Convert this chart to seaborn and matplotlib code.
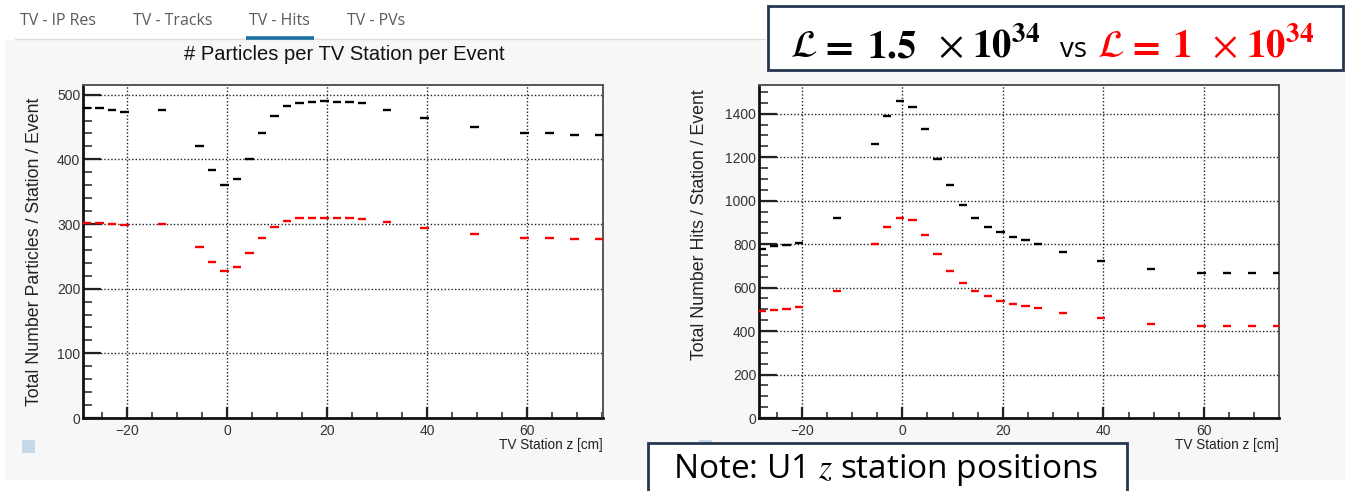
import numpy as np
import pandas as pd
import matplotlib
matplotlib.use("Agg")
import matplotlib.pyplot as plt
import seaborn as sns
from matplotlib.patches import Rectangle
from matplotlib.lines import Line2D
from matplotlib.ticker import MultipleLocator

# ---------------- data ----------------
z_cm = [-28.0, -25.5, -23.0, -20.5, -13.0, -5.5, -3.0, -0.5, 2.0, 4.5, 7.0, 9.5,
        12.0, 14.5, 17.0, 19.5, 22.0, 24.5, 27.0, 32.0, 39.5, 49.5, 59.5, 64.5,
        69.5, 74.5]
particles_L15 = [479, 479, 477, 474, 476, 421, 383, 361, 370, 401, 440, 467,
                 482, 487, 489, 491, 489, 489, 487, 477, 464, 450, 440, 440,
                 438, 438]
particles_L10 = [301, 301, 300, 299, 300, 265, 241, 227, 234, 255, 278, 296,
                 305, 310, 310, 310, 310, 310, 308, 303, 294, 284, 279, 279,
                 277, 277]
hits_L15 = [778, 792, 798, 804, 922, 1262, 1389, 1460, 1429, 1328, 1192, 1072,
            980, 922, 880, 854, 834, 818, 802, 762, 721, 686, 666, 666,
            666, 666]
hits_L10 = [494, 498, 503, 509, 585, 800, 880, 922, 911, 840, 754, 677,
            621, 585, 560, 540, 525, 514, 508, 483, 458, 432, 421, 421,
            421, 421]
lumi_labels = ["1.5e34", "1e34"]
lumi_colors = {"1.5e34": "#000000", "1e34": "#ff0000"}
tab_names = ["TV - IP Res", "TV - Tracks", "TV - Hits", "TV - PVs"]

df_part = pd.DataFrame({
    "z": z_cm * 2,
    "value": particles_L15 + particles_L10,
    "lumi": [lumi_labels[0]] * len(z_cm) + [lumi_labels[1]] * len(z_cm),
})
df_hits = pd.DataFrame({
    "z": z_cm * 2,
    "value": hits_L15 + hits_L10,
    "lumi": [lumi_labels[0]] * len(z_cm) + [lumi_labels[1]] * len(z_cm),
})

# ---------------- figure ----------------
sns.set_theme(style="white")
plt.rcParams["font.family"] = ["Liberation Sans", "DejaVu Sans"]
plt.rcParams["mathtext.fontset"] = "stix"

W, H = 1350, 491
fig = plt.figure(figsize=(W / 100, H / 100), dpi=100, facecolor="white")

def fx(px):
    return px / W

def fy(py):
    return 1 - py / H

# light grey panel background (behind everything)
fig.patches.append(Rectangle((fx(5), fy(480)), fx(1345) - fx(5), fy(40) - fy(480),
                             transform=fig.transFigure, facecolor="#f7f7f7",
                             edgecolor="none", zorder=-10))

# tab bar
fig.add_artist(Line2D([fx(15), fx(765)], [fy(38.5), fy(38.5)], color="#dddddd",
                      lw=1, transform=fig.transFigure, zorder=-5))
tab_x = [58, 173, 279, 376]
for name, x in zip(tab_names, tab_x):
    fig.text(fx(x), fy(21), name, ha="center", va="center", fontsize=11.5,
             color="#5a5a5a", family=["Open Sans", "DejaVu Sans"])
fig.add_artist(Line2D([fx(246), fx(314)], [fy(37.5), fy(37.5)], color="#1f6fa3",
                      lw=2.6, transform=fig.transFigure, solid_capstyle="butt"))

# title
fig.text(fx(344), fy(55), "# Particles per TV Station per Event", ha="center",
         va="center", fontsize=14.5, color="#111111")

ax_l = fig.add_axes([fx(83), fy(418), fx(603) - fx(83), fy(85) - fy(418)])
ax_r = fig.add_axes([fx(759), fy(418), fx(1279) - fx(759), fy(85) - fy(418)])

def style_axis(ax, df, xlim, ylim, ymajor, yminor):
    ax.set_facecolor("white")
    ax.set_zorder(1)
    sns.scatterplot(data=df, x="z", y="value", hue="lumi", palette=lumi_colors,
                    marker="_", s=36, linewidth=1.7, legend=False, ax=ax,
                    zorder=3)
    ax.set_xlim(*xlim)
    ax.set_ylim(*ylim)
    ax.xaxis.set_major_locator(MultipleLocator(20))
    ax.xaxis.set_minor_locator(MultipleLocator(5))
    ax.yaxis.set_major_locator(MultipleLocator(ymajor))
    ax.yaxis.set_minor_locator(MultipleLocator(yminor))
    ax.tick_params(axis="y", which="major", direction="in", length=13, width=1.6,
                   color="#222222", labelsize=10, labelcolor="#333333", pad=2,
                   left=True, right=False)
    ax.tick_params(axis="y", which="minor", direction="in", length=6.5, width=1.2,
                   color="#333333", left=True, right=False)
    ax.tick_params(axis="x", which="major", direction="in", length=8, width=1.6,
                   color="#222222", labelsize=10, labelcolor="#333333", pad=4,
                   bottom=True, top=False)
    ax.tick_params(axis="x", which="minor", direction="in", length=4.5, width=1.2,
                   color="#333333", bottom=True, top=False)
    ax.grid(True, which="major", linestyle=(0, (1, 1.5)), color="#222222",
            linewidth=1.0)
    ax.set_axisbelow(True)
    for side in ["left", "bottom"]:
        ax.spines[side].set_color("#111111")
        ax.spines[side].set_linewidth(2.0)
    for side in ["top", "right"]:
        ax.spines[side].set_color("#555555")
        ax.spines[side].set_linewidth(1.4)
    ax.set_xlabel("")
    ax.set_ylabel("")

style_axis(ax_l, df_part, (-28.8, 75.2), (0, 515), 100, 20)
style_axis(ax_r, df_hits, (-28.5, 74.9), (0, 1532), 200, 50)

# axis titles (ROOT style)
fig.text(fx(35), fy(252), "Total Number Particles / Station / Event", rotation=90,
         ha="center", va="center", fontsize=12.8, color="#222222")
fig.text(fx(700), fy(225), "Total Number Hits / Station / Event", rotation=90,
         ha="center", va="center", fontsize=12.8, color="#222222")
fig.text(fx(603), fy(445), "TV Station z [cm]", ha="right", va="center",
         fontsize=9.8, color="#222222")
fig.text(fx(1279), fy(445), "TV Station z [cm]", ha="right", va="center",
         fontsize=9.8, color="#222222")

# small canvas icons
for x0 in [22, 699]:
    fig.patches.append(Rectangle((fx(x0), fy(453)), fx(13), fx(13) * W / H,
                                 transform=fig.transFigure, facecolor="#c6d9ea",
                                 edgecolor="none", zorder=0.5))

# luminosity box
fig.patches.append(Rectangle((fx(768), fy(70)), fx(1343) - fx(768), fy(6) - fy(70),
                             transform=fig.transFigure, facecolor="white",
                             edgecolor="#263650", lw=2, zorder=5))

def lumi_piece(x, s, color, ha="center"):
    fig.text(fx(x), fy(57), s, ha=ha, va="baseline", fontsize=28, color=color,
             zorder=6)

for (xl, xe, xn, xt, x10, num, col) in [
        (803.7, 836, 892, 951, 972, "1.5", "black"),
        (1111, 1143, 1182, 1225, 1245.6, "1", "#ff0000")]:
    lumi_piece(xl, r"$\mathcal{L}$", col)
    lumi_piece(xe, r"$\mathbf{=}$", col)
    lumi_piece(xn, r"$\mathbf{" + num + r"}$", col)
    lumi_piece(xt, r"$\times$", col)
    lumi_piece(x10, r"$\mathbf{10^{34}}$", col, ha="left")
fig.text(fx(1073), fy(57), "vs", ha="center", va="baseline", fontsize=20,
         color="black", family=["Open Sans", "DejaVu Sans"], zorder=6)

# note box
fig.patches.append(Rectangle((fx(648), fy(495)), fx(1127) - fx(648), fy(443) - fy(495),
                             transform=fig.transFigure, facecolor="white",
                             edgecolor="#263650", lw=2, zorder=5))
fig.text(fx(886), fy(470), r"Note: U1 $z$ station positions", ha="center",
         va="center", fontsize=24, color="black",
         family=["Open Sans", "DejaVu Sans"], zorder=6)

fig.savefig("out.png", dpi=100, facecolor="white")
